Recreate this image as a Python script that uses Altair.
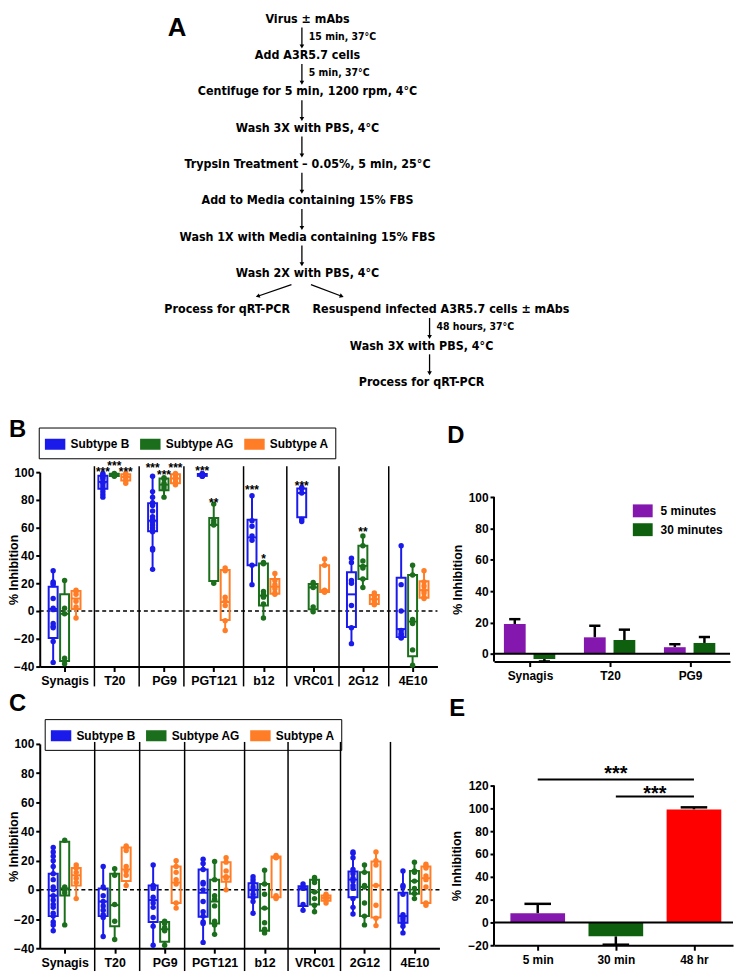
import altair as alt
import pandas as pd

FONT = "Liberation Sans, Arial, Helvetica, sans-serif"
NARROW = "'Liberation Sans Narrow', 'Arial Narrow', 'DejaVu Sans Condensed', sans-serif"

BLUE, GREEN, ORANGE = "#1a1aeb", "#1b6e1b", "#ff7d26"
PURPLE, DGREEN, RED = "#8418ae", "#0e600e", "#ff0000"

# ---------------- Panel A : protocol flow chart ----------------
flow_text = ["Virus ± mAbs", "Add A3R5.7 cells", "Centifuge for 5 min, 1200 rpm, 4°C",
             "Wash 3X with PBS, 4°C", "Trypsin Treatment – 0.05%, 5 min, 25°C",
             "Add to Media containing 15% FBS", "Wash 1X with Media containing 15% FBS",
             "Wash 2X with PBS, 4°C", "Process for qRT-PCR",
             "Resuspend infected A3R5.7 cells ± mAbs", "Wash 3X with PBS, 4°C",
             "Process for qRT-PCR"]
flow_row = [0, 1, 2, 3, 4, 5, 6, 7, 8, 8, 9, 10]
flow_col = [0, 0, 0, 0, 0, 0, 0, 0, -1, 1.17, 1, 1]
note_text = ["15 min, 37°C", "5 min, 37°C", "48 hours, 37°C"]
note_row = [0.5, 1.5, 8.5]
note_col = [-0.07, -0.07, 1.07]
arrow_row = [0, 1, 2, 3, 4, 5, 6, 8, 9]
arrow_col = [-0.07] * 7 + [1.07, 1.07]
split_from_col = [-0.2, 0.03]
split_to_col = [-0.62, 0.3]
split_angle = [72, 290]

# ---------------- Panels B / C : box plots ----------------
antibodies = ["Synagis", "T20", "PG9", "PGT121", "b12", "VRC01", "2G12", "4E10"]
subtypes = ["Subtype B", "Subtype AG", "Subtype A"]
subtype_colors = [BLUE, GREEN, ORANGE]
separators = [1.1, 2.0, 2.9, 4.1, 4.97, 6.02, 7.02]

# panel B, per antibody: [Subtype B, Subtype AG, Subtype A]
b_points = [
    [[29, 21, 20, 19, 9, 2, 1, -9, -11, -12, -22, -37], [22, 2, -2, -34, -38], [15, 14, 12, 7, 3, -5]],
    [[99, 98, 97, 96, 95, 93, 92, 90, 88, 86, 84, 82], [99, 98.5, 98, 97.5, 97], [99, 98, 97, 96, 94, 92]],
    [[97, 86, 82, 78, 76, 72, 68, 66, 64, 62, 60, 58, 57, 45, 44, 30], [96, 95, 92, 90, 88, 82], [99, 98, 96, 95, 93, 91]],
    [[99, 98.5, 98, 97.5, 97, 97], [77, 65, 63, 62, 20], [31, 29, 10, 7, 4, -7, -14]],
    [[83, 65, 61, 54, 51, 33, 19], [35, 34, 14, 12, 10, 5, -5], [27, 22, 19, 16, 13, 12]],
    [[89, 88, 85, 66, 64.5], [20.5, 18, 17, 3, -0.5], [37.5, 33, 15, 14, 13.5]],
    [[38, 35, 22, 20, 4, -12, -23.5], [54, 47, 36, 32, 31, 23, 17], [13, 11, 9, 8, 6, 4.5]],
    [[47, 19, 0, -14, -16, -17, -18, -19, -19.5], [33, 26, -6, -9, -28, -39], [29, 21, 18, 15, 13, 10, 9]],
]
b_q1 = [[-19.5, -36, 1.5], [88, 97.3, 94], [57.4, 87, 92], [97.3, 21.7, -6.5],
        [33, 4, 12.5], [67.5, 1.2, 13.7], [-11.5, 23, 5], [-18.8, -32.5, 9.5]]
b_med = [[1.5, -2, 9], [93, 98, 96.5], [65, 91, 95.5], [98, 62, 6.5],
         [53, 11, 17.5], [85, 17, 15], [12, 32.5, 8.5], [-13, -7.6, 15]]
b_q3 = [[17.5, 12, 14.5], [97.5, 98.8, 98.5], [77.6, 95.5, 98.5], [98.7, 67, 29.5],
        [65.7, 34.3, 23], [88.3, 19.5, 33], [28, 47, 11.5], [24, 26, 21.5]]
b_star_ab = ["T20", "T20", "T20", "PG9", "PG9", "PG9", "PGT121", "PGT121", "b12", "b12", "VRC01", "2G12"]
b_star_sub = [0, 1, 2, 0, 1, 2, 0, 1, 0, 1, 0, 1]
b_star_label = ["***", "***", "***", "***", "***", "***", "***", "**", "***", "*", "***", "**"]
b_star_y = [102, 106.5, 102, 105, 100, 105, 103, 80, 89, 39.5, 92.4, 59]

# panel C
c_points = [
    [[29, 26, 23, 20, 16, 11, 7, 2, 0, -4, -7, -10, -12, -16, -18, -22, -24, -28], [34, 2, 0, -2, -24], [17, 15, 12, 8, 5, -6]],
    [[16, 2, -4, -8, -11, -14, -17, -19, -32], [14.5, 10, -10, -21.5, -34], [30, 29, 27, 16, 13, 10, 3]],
    [[17, 3, 2, 1, -5, -9, -12, -19, -25, -38], [-21.5, -23, -26, -28, -38], [20, 16, 12, 7, 4, -9, -12.5]],
    [[21, 18, 14, 5, 4, 0, -8, -15, -18, -22, -23, -36], [19.5, 7, -4, -6.5, -11, -21.5, -24, -30.5], [22, 19, 13, 9, 8, 0]],
    [[9, 7, 5, 2, 0, -3, -5, -8, -16], [13.5, 4, -3, -12.5, -22.5, -27, -29.5], [23.5, 22.5, 22, -4, -5, -6]],
    [[4, 2, 1, -10, -14], [8.5, 7, 5, -1.5, -6, -10.5, -15], [-3, -4, -5, -6, -7, -9]],
    [[26, 25, 22, 14, 11, 8, 6, 3, 1, -6, -12, -16.5], [17, 12, 3, 2, -9, -18, -24], [26, 20, 17, 3, -10.5, -19.5, -24.5]],
    [[13, 3, 2, -3, -17, -19, -20.5, -22.5, -25, -29.5], [19, 13, 12, 6, 1, -2.5, -6], [17.5, 16, 15, 9.5, 7, 2, -9, -10.5]],
]
c_q1 = [[-18, -3.8, 2.9], [-18, -25, 6], [-22, -35.5, -9], [-18.5, -23, 5.6],
        [-5, -28, -5], [-11, -10, -7.5], [-5, -18, -19], [-22.5, -2.7, -9]]
c_med = [[-4, 1, 10], [-8, -10.5, 14], [-7, -27, 5], [-2, -8, 9],
         [0, -12.7, 22], [1, -1.6, -5.5], [7, 2, 3], [-18, 6, 8]]
c_q3 = [[11, 33, 15], [1, 11, 29], [3, -22, 16], [14, 7, 19],
        [4.5, 4, 22.8], [2.5, 7, -3.8], [12.5, 12, 19.5], [-2, 13, 16]]

# ---------------- Panel D ----------------
d_groups = ["Synagis", "T20", "PG9"]
d_series = ["5 minutes", "30 minutes"]
d_mean_5 = [19, 10.5, 4.2]
d_err_5 = [3.1, 7.4, 1.9]
d_mean_30 = [-3.3, 8.8, 6.9]
d_err_30 = [1.6, 6.6, 3.8]

# ---------------- Panel E ----------------
e_groups = ["5 min", "30 min", "48 hr"]
e_mean = [8.1, -12.2, 99.1]
e_err = [8.2, 7.3, 1.8]
e_colors = [PURPLE, DGREEN, RED]
sig_from = [0, 1]
sig_to = [2, 2]
sig_line_y = [125.3, 110.5]
sig_text_y = [134.6, 117.2]
sig_label = ["***", "***"]

# ---------------- layout constants ----------------
OX = 39            # page x of the left plot edge
A_W, A_H = 696, 384
B_W, B_H = 401, 196
C_W, C_H = 403, 206
D_W, D_H = 238, 191      # top 25 px above the y=100 line
E_W, E_H = 241, 203      # top 42 px above the y=120 line
D_TOP, E_TOP = 25, 42
SUB_OFFSET = 0.23
BOX_HALF = 0.09


def letter(t, x, y, size=24):
    return alt.Chart(pd.DataFrame({"t": [t]})).mark_text(
        font=FONT, fontSize=size, fontWeight="bold", align="left", baseline="alphabetic", color="black"
    ).encode(text="t:N", x=alt.value(x), y=alt.value(y))


def axis_line(top, bottom):
    return alt.Chart(pd.DataFrame({"t": [0]})).mark_rule(color="black", strokeWidth=2).encode(
        x=alt.value(0), y=alt.value(top), y2=alt.value(bottom))


# ---------- A ----------
xA = alt.Scale(domain=[-1, 0, 1], range=[228 - OX, 309 - OX, 424 - OX])
yA = alt.Scale(domain=[0, 10], range=[7, 373])
flow_df = pd.DataFrame({"text": flow_text, "row": flow_row, "col": flow_col})
note_df = pd.DataFrame({"text": note_text, "row": note_row, "col": note_col})
arr_df = pd.DataFrame({"row": arrow_row, "col": arrow_col})
arr_df["r0"] = arr_df["row"] + 0.24
arr_df["r1"] = arr_df["row"] + 0.76
split_df = pd.DataFrame({"c0": split_from_col, "c1": split_to_col, "ang": split_angle})
split_df["r0"] = 7.32
split_df["r1"] = 7.64

AX = lambda f: alt.X(f, type="quantitative", scale=xA, axis=None)
AY = lambda f: alt.Y(f, type="quantitative", scale=yA, axis=None)

a_text = alt.Chart(flow_df).mark_text(font=NARROW, fontSize=12.5, fontWeight="bold", color="black").encode(
    x=AX("col"), y=AY("row"), text="text:N")
a_note = alt.Chart(note_df).mark_text(font=NARROW, fontSize=10.5, fontWeight="bold", align="left", dx=7,
                                       color="black").encode(x=AX("col"), y=AY("row"), text="text:N")
a_rule = alt.Chart(arr_df).mark_rule(color="black", strokeWidth=1.3).encode(x=AX("col"), y=AY("r0"), y2="r1")
a_head = alt.Chart(arr_df).mark_point(shape="triangle-down", filled=True, size=22, color="black", opacity=1).encode(
    x=AX("col"), y=AY("r1"))
s_rule = alt.Chart(split_df).mark_rule(color="black", strokeWidth=1.3).encode(x=AX("c0"), x2="c1", y=AY("r0"), y2="r1")
s_head = alt.Chart(split_df).mark_point(shape="triangle-down", filled=True, size=22, color="black", opacity=1).encode(
    x=AX("c1"), y=AY("r1"), angle=alt.Angle("ang:Q", scale=None))
panel_a = alt.layer(a_text, a_note, a_rule, a_head, s_rule, s_head, letter("A", 129, 24, 26)).properties(
    width=A_W, height=A_H)

# ---------- B / C ----------
LABEL_EXPR = "[" + ",".join("'%s'" % a for a in antibodies) + "][floor(datum.value)]"


def box_panel(points, q1, med, q3, width, height, sep_top, sep_bottom, legend_x, legend_y, let, let_y,
              star_ab=None, star_sub=None, star_label=None, star_y=None):
    pts_rows, box_rows, whisk_rows = [], [], []
    for gi, ab in enumerate(antibodies):
        for si, st in enumerate(subtypes):
            xc = gi + 0.5 + (si - 1) * SUB_OFFSET
            vals = points[gi][si]
            for v in vals:
                pts_rows.append(dict(antibody=ab, dotsub=st, x=xc, value=v))
            box_rows.append(dict(antibody=ab, subtype=st, x=xc, xl=xc - BOX_HALF, xr=xc + BOX_HALF,
                                 q1=q1[gi][si], med=med[gi][si], q3=q3[gi][si]))
            whisk_rows.append(dict(subtype=st, x=xc, a=min(vals), b=q1[gi][si]))
            whisk_rows.append(dict(subtype=st, x=xc, a=q3[gi][si], b=max(vals)))
    pts = pd.DataFrame(pts_rows)
    box = pd.DataFrame(box_rows)
    wdf = pd.DataFrame(whisk_rows)
    xs = alt.Scale(domain=[0, 8], nice=False, zero=False)
    ys = alt.Scale(domain=[-40, 100], nice=False, zero=False)
    xax = alt.Axis(values=[i + 0.5 for i in range(8)], labelExpr=LABEL_EXPR, title=None, tickSize=5,
                   labelPadding=3, labelOverlap=False, labelFontSize=12.5)
    yax = alt.Axis(values=list(range(-40, 101, 20)), title="% Inhibition", titleX=-19, titleY=height / 2,
                   tickSize=4, labelPadding=2, titleFontSize=12.5)
    cs = alt.Scale(domain=subtypes, range=subtype_colors)
    X = lambda f: alt.X(f, type="quantitative", scale=xs, axis=xax)
    Y = lambda f: alt.Y(f, type="quantitative", scale=ys, axis=yax)
    leg = alt.Legend(
        orient="none", legendX=legend_x, legendY=legend_y, direction="horizontal", title=None,
        symbolType="M-1,-0.5H1V0.5H-1Z", symbolSize=361, symbolStrokeWidth=1.6, symbolFillColor="white",
        labelFont=FONT, labelFontSize=12, labelFontWeight="bold", labelColor="black",
        strokeColor="black", padding=6, columnPadding=7, labelOffset=5)
    stk = alt.Color("subtype:N", scale=cs, legend=leg)

    sep = alt.Chart(pd.DataFrame({"pos": separators})).mark_rule(color="black", strokeWidth=1.5).encode(
        x=X("pos"), y=alt.value(sep_top), y2=alt.value(height + sep_bottom))
    rect = alt.Chart(box).mark_rect(filled=False, strokeWidth=2).encode(
        x=X("xl"), x2="xr", y=Y("q1"), y2="q3", color=stk)
    whisk = alt.Chart(wdf).mark_rule(strokeWidth=2).encode(x=X("x"), y=Y("a"), y2="b", color=stk)
    zero = alt.Chart(pd.DataFrame({"y": [0]})).mark_rule(color="black", strokeWidth=1.5, strokeDash=[4, 3]).encode(
        y=Y("y"), x=alt.value(0), x2=alt.value(width))
    medl = alt.Chart(box).mark_rule(strokeWidth=2).encode(x=X("xl"), x2="xr", y=Y("med"), color=stk)
    dots = alt.Chart(pts).mark_circle(size=30, opacity=1).encode(
        x=X("x"), y=Y("value"), fill=alt.Fill("dotsub:N", scale=cs, legend=None))
    layers = [sep, zero, rect, whisk, medl, dots]
    if star_ab:
        sdf = pd.DataFrame({"ab": star_ab, "si": star_sub, "label": star_label, "y": star_y})
        sdf["x"] = [antibodies.index(a) + 0.5 + (s - 1) * SUB_OFFSET for a, s in zip(star_ab, star_sub)]
        layers.append(alt.Chart(sdf).mark_text(font=FONT, fontSize=12, fontWeight="bold", baseline="alphabetic",
                                               dy=7, color="black").encode(x=X("x"), y=Y("y"), text="label:N"))
    layers.append(letter(let, 8 - OX, let_y))
    return alt.layer(*layers).properties(width=width, height=height)


panel_b = box_panel(b_points, b_q1, b_med, b_q3, B_W, B_H, -6, 20, -1, -45, "B", -35,
                    b_star_ab, b_star_sub, b_star_label, b_star_y)
panel_c = box_panel(c_points, c_q1, c_med, c_q3, C_W, C_H, -2, 23, 5, -25, "C", -33)

# ---------- D ----------
d_rows = []
for gi, g in enumerate(d_groups):
    for si, (s, m, e) in enumerate([(d_series[0], d_mean_5[gi], d_err_5[gi]), (d_series[1], d_mean_30[gi], d_err_30[gi])]):
        xc = gi + (-0.19 if si == 0 else 0.18)
        d_rows.append(dict(group=g, series=s, x=xc, xl=xc - 0.136, xr=xc + 0.136, cl=xc - 0.07, cr=xc + 0.07,
                           mean=m, base=0, errend=m + e if m >= 0 else m - e))
d_df = pd.DataFrame(d_rows)
dxs = alt.Scale(domain=[-0.45, 2.5], nice=False, zero=False)
dys = alt.Scale(domain=[-5, 116], nice=False, zero=False)
dxax = alt.Axis(values=[0, 1, 2], labelExpr="['Synagis','T20','PG9'][datum.value]", title=None, tickSize=5,
                labelPadding=4, labelOverlap=False)
dyax = alt.Axis(values=[0, 20, 40, 60, 80, 100], title="% Inhibition", tickSize=4, labelPadding=2, titlePadding=4,
                domain=False, titleY=(D_TOP + D_H) / 2)
DX = lambda f: alt.X(f, type="quantitative", scale=dxs, axis=dxax)
DY = lambda f: alt.Y(f, type="quantitative", scale=dys, axis=dyax)
d_err = alt.Chart(d_df).mark_rule(color="black", strokeWidth=2.5).encode(x=DX("x"), y=DY("mean"), y2="errend")
d_cap = alt.Chart(d_df).mark_rule(color="black", strokeWidth=2.5).encode(x=DX("cl"), x2="cr", y=DY("errend"))
d_bar = alt.Chart(d_df).mark_rect().encode(
    x=DX("xl"), x2="xr", y=DY("mean"), y2="base",
    fill=alt.Fill("series:N", scale=alt.Scale(domain=d_series, range=[PURPLE, DGREEN]), legend=alt.Legend(
        orient="none", legendX=140, legendY=29, title=None, symbolType="M-1,-0.65H1V0.65H-1Z", symbolSize=400,
        symbolStrokeWidth=0, labelFont=FONT, labelFontSize=12, labelFontWeight="bold", labelColor="black",
        rowPadding=2, labelOffset=8, padding=0)))
d_zero = alt.Chart(pd.DataFrame({"y": [0]})).mark_rule(color="black", strokeWidth=2).encode(
    y=DY("y"), x=alt.value(0), x2=alt.value(D_W))
panel_d = alt.layer(axis_line(D_TOP, D_H), d_err, d_cap, d_bar, d_zero, letter("D", -47, -29)).properties(
    width=D_W, height=D_H)

# ---------- E ----------
e_df = pd.DataFrame({"group": e_groups, "x": [0, 1, 2], "mean": e_mean, "err": e_err})
e_df["xl"] = e_df["x"] - 0.35
e_df["xr"] = e_df["x"] + 0.35
e_df["cl"] = e_df["x"] - 0.17
e_df["cr"] = e_df["x"] + 0.17
e_df["base"] = 0
e_df["errend"] = [m + e if m >= 0 else m - e for m, e in zip(e_mean, e_err)]
sig_df = pd.DataFrame({"a": sig_from, "b": sig_to, "ly": sig_line_y, "ty": sig_text_y, "label": sig_label})
sig_df["mid"] = (sig_df["a"] + sig_df["b"]) / 2
exs = alt.Scale(domain=[-0.56, 2.5], nice=False, zero=False)
eys = alt.Scale(domain=[-20, 156.5], nice=False, zero=False)
exax = alt.Axis(values=[0, 1, 2], labelExpr="['5 min','30 min','48 hr'][datum.value]", title=None, tickSize=5,
                labelPadding=4, labelOverlap=False)
eyax = alt.Axis(values=[-20, 0, 20, 40, 60, 80, 100, 120], title="% Inhibition", tickSize=4, labelPadding=2,
                titlePadding=4, domain=False, titleY=(E_TOP + E_H) / 2)
EX = lambda f: alt.X(f, type="quantitative", scale=exs, axis=exax)
EY = lambda f: alt.Y(f, type="quantitative", scale=eys, axis=eyax)
e_err_l = alt.Chart(e_df).mark_rule(color="black", strokeWidth=2.5).encode(x=EX("x"), y=EY("mean"), y2="errend")
e_cap = alt.Chart(e_df).mark_rule(color="black", strokeWidth=2.5).encode(x=EX("cl"), x2="cr", y=EY("errend"))
e_bar = alt.Chart(e_df).mark_rect().encode(
    x=EX("xl"), x2="xr", y=EY("mean"), y2="base",
    fill=alt.Fill("group:N", scale=alt.Scale(domain=e_groups, range=e_colors), legend=None))
e_zero = alt.Chart(pd.DataFrame({"y": [0]})).mark_rule(color="black", strokeWidth=2).encode(
    y=EY("y"), x=alt.value(0), x2=alt.value(E_W))
e_sig = alt.Chart(sig_df).mark_rule(color="black", strokeWidth=2).encode(x=EX("a"), x2="b", y=EY("ly"))
e_sigt = alt.Chart(sig_df).mark_text(font=FONT, fontSize=20, fontWeight="bold", baseline="alphabetic", dy=11,
                                     color="black").encode(x=EX("mid"), y=EY("ty"), text="label:N")
panel_e = alt.layer(axis_line(E_TOP, E_H), e_err_l, e_cap, e_bar, e_zero, e_sig, e_sigt,
                    letter("E", -45, -28)).properties(width=E_W, height=E_H)

# ---------- layout ----------
IND = dict(color="independent", fill="independent", stroke="independent")
grid = alt.concat(panel_b, panel_d, panel_c, panel_e, columns=2, spacing={"row": 78, "column": 55},
                  bounds="flush").resolve_scale(**IND).resolve_legend(**IND)

chart = alt.vconcat(panel_a, grid, spacing=80, bounds="flush").resolve_scale(**IND).resolve_legend(**IND).properties(
    padding=0, background="white"
).configure_view(stroke=None).configure_axis(
    grid=False, domainColor="black", domainWidth=2, tickColor="black", tickWidth=2,
    labelColor="black", labelFont=FONT, labelFontWeight="bold", labelFontSize=12,
    titleColor="black", titleFont=FONT, titleFontWeight="bold", titleFontSize=12.5
)

chart.save("out.html", embed_options={"renderer": "svg", "actions": False})
